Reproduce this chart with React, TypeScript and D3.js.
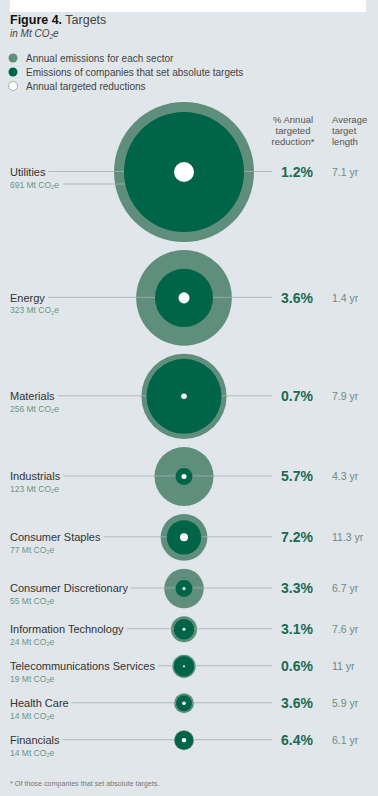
import React, { useEffect, useRef } from "react";
import * as d3 from "d3";

const sectors = [
  "Utilities",
  "Energy",
  "Materials",
  "Industrials",
  "Consumer Staples",
  "Consumer Discretionary",
  "Information Technology",
  "Telecommunications Services",
  "Health Care",
  "Financials",
];
const sectorEmissions = [691, 323, 256, 123, 77, 55, 24, 19, 14, 14];
const targetEmissions = [508, 119, 198, 10.2, 41.7, 10.2, 15, 15, 9, 12];
const targetedReductions = [14.1, 4.3, 1.1, 0.9, 2.26, 0.32, 0.32, 0.14, 0.46, 0.68];
const pctReduction = ["1.2%", "3.6%", "0.7%", "5.7%", "7.2%", "3.3%", "3.1%", "0.6%", "3.6%", "6.4%"];
const targetLength = ["7.1 yr", "1.4 yr", "7.9 yr", "4.3 yr", "11.3 yr", "6.7 yr", "7.6 yr", "11 yr", "5.9 yr", "6.1 yr"];
const legendItems = [
  "Annual emissions for each sector",
  "Emissions of companies that set absolute targets",
  "Annual targeted reductions",
];

const W = 378;
const H = 796;
const BG = "#e0e6e9";
const OUTER = "#5f8f7c";
const INNER = "#006446";
const LINE = "#a3aeb3";
const FONT = "'Liberation Sans', Arial, Helvetica, sans-serif";

export default function App() {
  const ref = useRef<SVGSVGElement | null>(null);

  useEffect(() => {
    const svg = d3.select(ref.current);
    svg.selectAll("*").remove();

    svg.append("rect").attr("width", W).attr("height", H).attr("fill", BG);
    svg.append("rect").attr("x", 10).attr("y", 0).attr("width", 356).attr("height", 12).attr("fill", "#ffffff");

    // Title
    const t = svg.append("text").attr("x", 10).attr("y", 24).attr("font-family", FONT).attr("font-size", 12.5);
    t.append("tspan").attr("font-weight", 900).attr("fill", "#111").text("Figure 4.");
    t.append("tspan").attr("fill", "#444").text(" Targets");
    const st = svg.append("text").attr("x", 10).attr("y", 37).attr("font-family", FONT)
      .attr("font-size", 10).attr("font-style", "italic").attr("fill", "#444");
    st.append("tspan").text("in Mt CO");
    st.append("tspan").attr("font-size", 6.5).attr("dy", 2).text("2");
    st.append("tspan").attr("dy", -2).text("e");

    // Legend
    const legendFill = [OUTER, INNER, "#ffffff"];
    legendItems.forEach((txt, i) => {
      const y = 58 + i * 14;
      svg.append("circle").attr("cx", 13).attr("cy", y).attr("r", 4.5)
        .attr("fill", legendFill[i]).attr("stroke", i === 2 ? "#8a9a9a" : "none").attr("stroke-width", 0.7);
      svg.append("text").attr("x", 26).attr("y", y + 3.5).attr("font-family", FONT)
        .attr("font-size", 10).attr("fill", "#444").text(txt);
    });

    // Column headers
    const cx = 184;
    const pctX = 313;
    const yrX = 332;
    const hdr1 = ["% Annual", "targeted", "reduction*"];
    const hdr2 = ["Average", "target", "length"];
    hdr1.forEach((h, i) => {
      svg.append("text").attr("x", 293).attr("y", 123 + i * 11).attr("text-anchor", "middle")
        .attr("font-family", FONT).attr("font-size", 9.5).attr("fill", "#555").text(h);
    });
    hdr2.forEach((h, i) => {
      svg.append("text").attr("x", yrX).attr("y", 123 + i * 11)
        .attr("font-family", FONT).attr("font-size", 9.5).attr("fill", "#555").text(h);
    });

    const r = d3.scaleSqrt().domain([0, d3.max(sectorEmissions) as number]).range([0, 70]);

    // layout of rows
    const ys: number[] = [];
    sectors.forEach((_, i) => {
      if (i === 0) ys.push(172);
      else {
        const gap = Math.max(r(sectorEmissions[i - 1]) + r(sectorEmissions[i]) + 8, 37);
        ys.push(ys[i - 1] + gap);
      }
    });

    sectors.forEach((name, i) => {
      const y = ys[i];
      const g = svg.append("g");
      g.append("circle").attr("cx", cx).attr("cy", y).attr("r", r(sectorEmissions[i])).attr("fill", OUTER);

      const label = g.append("text").attr("x", 10).attr("y", y + 4).attr("font-family", FONT)
        .attr("font-size", 11).attr("fill", "#333").text(name);
      const lw = (label.node() as SVGTextElement).getComputedTextLength();

      const sub = g.append("text").attr("x", 10).attr("y", y + 15.5).attr("font-family", FONT)
        .attr("font-size", 8.5).attr("fill", "#6b978a");
      sub.append("tspan").text(`${sectorEmissions[i]} Mt CO`);
      sub.append("tspan").attr("font-size", 5.5).attr("dy", 1.5).text("2");
      sub.append("tspan").attr("dy", -1.5).text("e");
      const sw = (sub.node() as SVGTextElement).getComputedTextLength();

      g.append("line").attr("x1", 10 + lw + 3).attr("x2", 272).attr("y1", y - 0.5).attr("y2", y - 0.5)
        .attr("stroke", LINE).attr("stroke-width", 0.8);
      if (i === 0) {
        g.append("line").attr("x1", 10 + sw + 4).attr("x2", cx).attr("y1", y + 12).attr("y2", y + 12)
          .attr("stroke", LINE).attr("stroke-width", 0.8);
      }

      g.append("circle").attr("cx", cx).attr("cy", y).attr("r", r(targetEmissions[i])).attr("fill", INNER);
      g.append("circle").attr("cx", cx).attr("cy", y).attr("r", r(targetedReductions[i])).attr("fill", "#ffffff");

      g.append("text").attr("x", pctX).attr("y", y + 5).attr("text-anchor", "end").attr("font-family", FONT)
        .attr("font-size", 14).attr("font-weight", "bold").attr("fill", "#1b6a55").text(pctReduction[i]);
      g.append("text").attr("x", yrX).attr("y", y + 4).attr("font-family", FONT)
        .attr("font-size", 10.5).attr("fill", "#6f8a86").text(targetLength[i]);
    });

    svg.append("text").attr("x", 10).attr("y", 786).attr("font-family", FONT).attr("font-size", 7.2)
      .attr("fill", "#777").text("* Of those companies that set absolute targets.");
  }, []);

  return (
    <svg
      ref={ref}
      width={W}
      height={H}
      style={{ position: "absolute", left: 0, top: 0, display: "block" }}
    />
  );
}
